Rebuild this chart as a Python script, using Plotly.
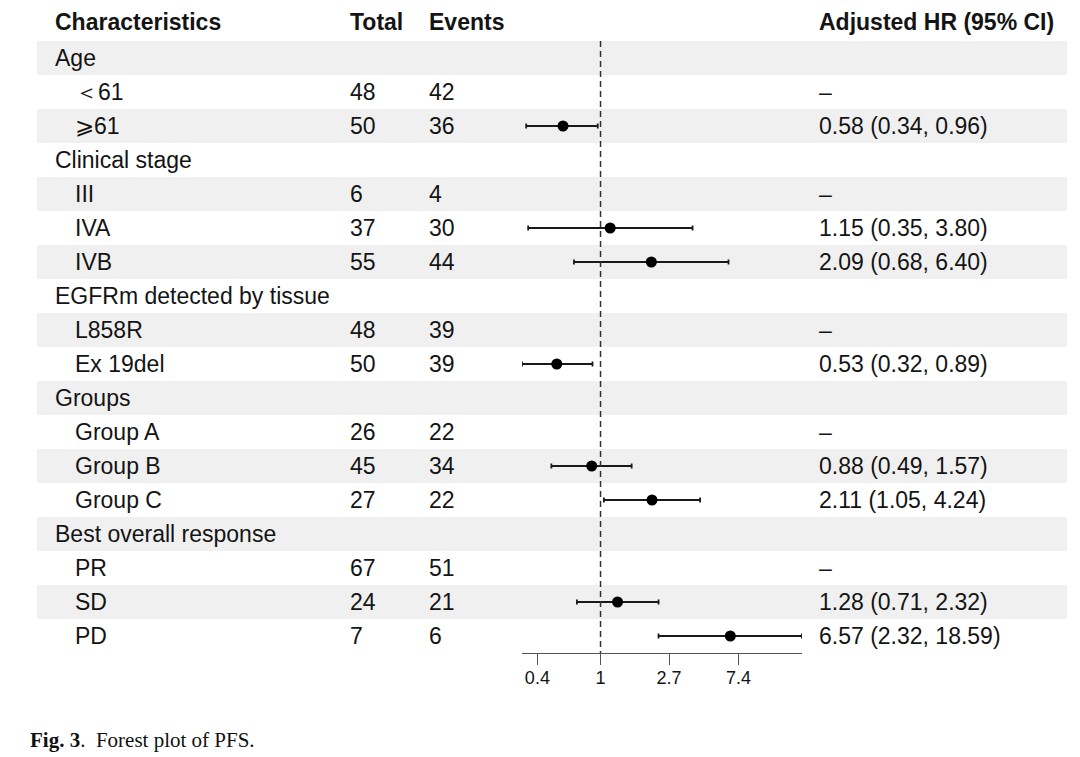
import math
import plotly.graph_objects as go

# ---------------- data ----------------
labels = ["Age", "＜61", "⩾61", "Clinical stage",
          "III", "IVA", "IVB",
          "EGFRm detected by tissue", "L858R", "Ex 19del", "Groups",
          "Group A", "Group B", "Group C", "Best overall response",
          "PR", "SD", "PD"]
is_group = [True, False, False, True, False, False, False, True, False, False,
            True, False, False, False, True, False, False, False]
total = ["", "48", "50", "", "6", "37", "55", "", "48", "50", "",
         "26", "45", "27", "", "67", "24", "7"]
events = ["", "42", "36", "", "4", "30", "44", "", "39", "39", "",
          "22", "34", "22", "", "51", "21", "6"]
hr = [None, None, 0.58, None, None, 1.15, 2.09, None, None, 0.53, None,
      None, 0.88, 2.11, None, None, 1.28, 6.57]
ci_lo = [None, None, 0.34, None, None, 0.35, 0.68, None, None, 0.32, None,
         None, 0.49, 1.05, None, None, 0.71, 2.32]
ci_hi = [None, None, 0.96, None, None, 3.80, 6.40, None, None, 0.89, None,
         None, 1.57, 4.24, None, None, 2.32, 18.59]
tick_vals = [0.4, 1, 2.7, 7.4]
tick_text = ["0.4", "1", "2.7", "7.4"]
headers = ["Characteristics", "Total", "Events", "Adjusted HR (95% CI)"]
caption_bold = "Fig. 3"
caption_rest = ".\u00a0\u00a0Forest plot of PFS."

# ---------------- layout helpers ----------------
W, H = 1080, 757
def px(x):
    return x / W
def py(y):
    return 1 - y / H

FONT = "Liberation Sans, Arial, Helvetica, sans-serif"
TXT = "#141414"
FS = 23

n = len(labels)
rows = list(range(n))

fig = go.Figure()

# shaded rows
shapes = []
for i in rows:
    if i % 2 == 0:
        shapes.append(dict(type="rect", xref="paper", yref="y",
                           x0=px(37), x1=px(1067), y0=i - 0.5, y1=i + 0.5,
                           fillcolor="#f0f0f0", line=dict(width=0), layer="below"))
# reference line at HR = 1
shapes.append(dict(type="line", xref="x", yref="y", x0=1, x1=1,
                   y0=-0.5, y1=n - 0.5,
                   line=dict(color="#333333", width=1.5, dash="6px,4px"),
                   layer="above"))

# forest points
xs, ys, ep, em = [], [], [], []
for i in rows:
    if hr[i] is not None:
        xs.append(hr[i]); ys.append(i)
        ep.append(ci_hi[i] - hr[i]); em.append(hr[i] - ci_lo[i])

fig.add_trace(go.Scatter(
    x=xs, y=ys, mode="markers",
    marker=dict(color="black", size=11, symbol="circle"),
    error_x=dict(type="data", symmetric=False, array=ep, arrayminus=em,
                 color="#1a1a1a", thickness=1.8, width=2.5),
    hoverinfo="skip", showlegend=False))

# annotations
ann = []
hdr_x = [53, 348, 427, 817]
for t, x in zip(headers, hdr_x):
    ann.append(dict(text="<b>%s</b>" % t, x=px(x), y=py(22), xref="paper", yref="paper",
                    xanchor="left", yanchor="middle", showarrow=False,
                    font=dict(family=FONT, size=FS, color=TXT)))
for i in rows:
    lx = 53 if is_group[i] else 73
    ann.append(dict(text=labels[i], x=px(lx), y=i, xref="paper", yref="y",
                    xanchor="left", yanchor="middle", showarrow=False,
                    font=dict(family=FONT, size=FS, color=TXT)))
    if total[i]:
        ann.append(dict(text=total[i], x=px(348), y=i, xref="paper", yref="y",
                        xanchor="left", yanchor="middle", showarrow=False,
                        font=dict(family=FONT, size=FS, color=TXT)))
        ann.append(dict(text=events[i], x=px(427), y=i, xref="paper", yref="y",
                        xanchor="left", yanchor="middle", showarrow=False,
                        font=dict(family=FONT, size=FS, color=TXT)))
        if hr[i] is None:
            s = "–"
        else:
            s = "%.2f (%.2f, %.2f)" % (hr[i], ci_lo[i], ci_hi[i])
        ann.append(dict(text=s, x=px(817), y=i, xref="paper", yref="y",
                        xanchor="left", yanchor="middle", showarrow=False,
                        font=dict(family=FONT, size=FS, color=TXT)))
ann.append(dict(text="<b>%s</b>%s" % (caption_bold, caption_rest),
                x=px(28), y=py(740), xref="paper", yref="paper",
                xanchor="left", yanchor="middle", showarrow=False,
                font=dict(family="Liberation Serif, Times New Roman, serif",
                          size=21, color="#111111")))

lo_all = min(v for v in ci_lo if v is not None)
hi_all = max(v for v in ci_hi if v is not None)

fig.update_layout(
    width=W, height=H, margin=dict(l=0, r=0, t=0, b=0),
    paper_bgcolor="white", plot_bgcolor="rgba(0,0,0,0)",
    shapes=shapes, annotations=ann,
    xaxis=dict(type="log", range=[math.log10(lo_all), math.log10(hi_all)],
               domain=[px(522), px(802)], showgrid=False, zeroline=False,
               showline=True, linecolor="#555555", linewidth=1.2,
               ticks="outside", ticklen=11, tickwidth=1.2, tickcolor="#555555",
               tickvals=tick_vals, ticktext=tick_text, ticklabelstandoff=-3,
               tickfont=dict(family=FONT, size=18, color=TXT), fixedrange=True),
    yaxis=dict(range=[n - 0.5, -0.5], domain=[py(653), py(41)], visible=False,
               showgrid=False, zeroline=False, fixedrange=True),
)

fig.write_html("out.html", post_script="document.body.style.margin='0';",
               config={"displayModeBar": False})
